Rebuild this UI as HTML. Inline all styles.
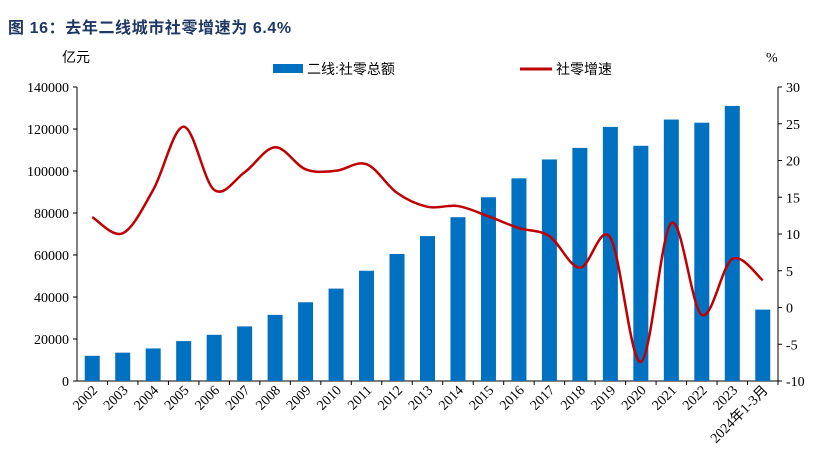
<!DOCTYPE html>
<html><head><meta charset="utf-8"><style>
body{margin:0;background:#fff;width:825px;height:468px;overflow:hidden}
svg text{font-family:"Liberation Serif","Noto Serif CJK SC",serif}
</style></head><body>
<svg id="c" width="825" height="468">
<text x="8" y="33" font-size="16" font-weight="bold" fill="#1f3864" letter-spacing="0.6" style="font-family:'Liberation Sans','Noto Sans CJK SC',sans-serif">图 16：去年二线城市社零增速为 6.4%</text>
<text x="62" y="62" font-size="14" fill="#000" style="font-family:'Liberation Sans','Noto Sans CJK SC',sans-serif">亿元</text>
<text x="766" y="62" font-size="14" fill="#000">%</text>
<g>
<rect x="273" y="64" width="30" height="9" fill="#0070c0"/>
<text x="307" y="74" font-size="14" style="font-family:'Liberation Sans','Noto Sans CJK SC',sans-serif">二线:社零总额</text>
<line x1="520" y1="69" x2="552" y2="69" stroke="#c00000" stroke-width="3"/>
<text x="556" y="74" font-size="14" style="font-family:'Liberation Sans','Noto Sans CJK SC',sans-serif">社零增速</text>
</g>
<g id="plot"></g>
</svg>
<script>
const categories=["2002","2003","2004","2005","2006","2007","2008","2009","2010","2011","2012","2013","2014","2015","2016","2017","2018","2019","2020","2021","2022","2023","2024年1-3月"];
const salesValues=[12000,13500,15500,19000,22000,26000,31500,37500,44000,52500,60500,69000,78000,87500,96500,105500,111000,121000,112000,124500,123000,131000,34000];
const growthValues=[12.3,10.1,16,24.6,16,18.4,21.8,18.8,18.6,19.5,15.6,13.7,13.8,12.4,10.8,9.7,5.4,9.5,-7.4,11.5,-1,6.6,3.7];
const leftTicks=[0,20000,40000,60000,80000,100000,120000,140000];
const rightTicks=[-10,-5,0,5,10,15,20,25,30];
const NS="http://www.w3.org/2000/svg";
const g=document.getElementById('plot');
const X0=77,X1=778,Y0=381,Y1=87;
const step=(X1-X0)/categories.length;
const xC=i=>X0+step*(i+0.5);
const yL=v=>Y0-(v/140000)*(Y0-Y1);
const yR=v=>Y0-((v+10)/40)*(Y0-Y1);
function mk(t,a){const e=document.createElementNS(NS,t);for(const k in a)e.setAttribute(k,a[k]);g.appendChild(e);return e;}
let e;
e=mk('line',{x1:X0,y1:Y1,x2:X0,y2:Y0,stroke:'#000'});


e=mk('line',{x1:X1,y1:Y1,x2:X1,y2:Y0,stroke:'#000'});


e=mk('line',{x1:X0,y1:Y0,x2:X1,y2:Y0,stroke:'#000'});


leftTicks.forEach(v=>{const y=yL(v);
mk('line',{x1:X0-4,y1:y,x2:X0,y2:y,stroke:'#000'});
e=mk('text',{x:X0-8,y:y+5,'font-size':14,'text-anchor':'end'});e.textContent=v;

});
rightTicks.forEach(v=>{const y=yR(v);
mk('line',{x1:X1,y1:y,x2:X1+4,y2:y,stroke:'#000'});
e=mk('text',{x:X1+8,y:y+5,'font-size':14});e.textContent=v;

});
categories.forEach((c,i)=>{
mk('line',{x1:X0+step*(i+1),y1:Y0,x2:X0+step*(i+1),y2:Y0+4,stroke:'#000'});
e=mk('rect',{x:xC(i)-7.5,y:yL(salesValues[i]),width:15,height:Y0-yL(salesValues[i]),fill:'#0070c0'});


const tx=xC(i)+6,ty=Y0+10;
e=mk('text',{x:tx,y:ty,'font-size':14,'text-anchor':'end',transform:`rotate(-45 ${tx} ${ty})`,style:"font-family:'Liberation Serif','Noto Sans CJK SC',serif"});e.textContent=c;

});
const pts=growthValues.map((v,i)=>[xC(i),yR(v)]);
let d=`M${pts[0][0]},${pts[0][1]}`;
for(let i=0;i<pts.length-1;i++){const p0=pts[i-1]||pts[i],p1=pts[i],p2=pts[i+1],p3=pts[i+2]||p2;
d+=` C${p1[0]+(p2[0]-p0[0])/6},${p1[1]+(p2[1]-p0[1])/6} ${p2[0]-(p3[0]-p1[0])/6},${p2[1]-(p3[1]-p1[1])/6} ${p2[0]},${p2[1]}`;}
e=mk('path',{d:d,fill:'none',stroke:'#c00000','stroke-width':2.5});


</script>
</body></html>
